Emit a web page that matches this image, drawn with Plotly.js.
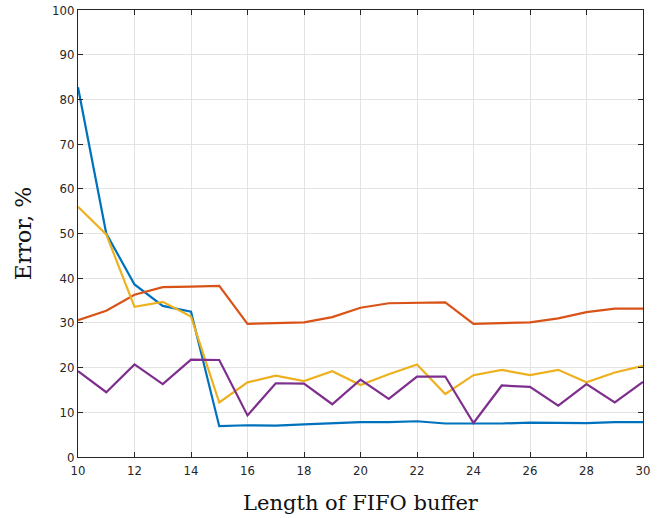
<!DOCTYPE html>
<html><head><meta charset="utf-8">
<script src="https://cdn.plot.ly/plotly-3.0.1.min.js"></script>
<style>html,body{margin:0;padding:0;background:#fff}#chart{width:672px;height:518px}</style>
</head><body><div id="chart"></div>
<script>
const bufferLength = [10,11,12,13,14,15,16,17,18,19,20,21,22,23,24,25,26,27,28,29,30];
const seriesBlue   = [82.7,50.0,38.6,33.8,32.5,6.9,7.1,7.0,7.3,7.5,7.8,7.8,8.0,7.5,7.5,7.5,7.7,7.7,7.6,7.8,7.8];
const seriesRed    = [30.6,32.7,36.3,38.0,38.1,38.3,29.8,29.9,30.1,31.3,33.4,34.4,34.5,34.6,29.8,29.9,30.1,31.0,32.4,33.2,33.2];
const seriesYellow = [56.0,49.8,33.6,34.7,31.4,12.2,16.7,18.2,17.0,19.2,16.1,18.5,20.7,14.1,18.3,19.5,18.3,19.5,16.7,18.9,20.4];
const seriesPurple = [19.2,14.5,20.7,16.3,21.8,21.7,9.3,16.5,16.4,11.8,17.3,13.0,18.0,18.0,7.6,16.0,15.7,11.5,16.3,12.2,16.8];
const xTicks = [10,12,14,16,18,20,22,24,26,28,30];
const yTicks = [0,10,20,30,40,50,60,70,80,90,100];

const colors = ['#0072BD','#D95319','#EDB120','#7E2F8E'];
const all = [seriesBlue, seriesRed, seriesYellow, seriesPurple];
const traces = all.map((s,i)=>({x:bufferLength,y:s,type:'scatter',mode:'lines',
  line:{color:colors[i],width:2.2},hoverinfo:'skip',showlegend:false}));

const axBase = {showline:true,linecolor:'#262626',linewidth:1,mirror:'ticks',ticks:'inside',
  ticklen:5,tickcolor:'#262626',showgrid:true,gridcolor:'#e3e3e3',gridwidth:1,zeroline:false,
  tickfont:{family:'DejaVu Sans Condensed, DejaVu Sans, sans-serif',size:13,color:'#262626'}};
const layout = {
  width:672,height:518,margin:{l:78,r:29,t:10,b:61},
  paper_bgcolor:'#fff',plot_bgcolor:'#fff',
  xaxis:Object.assign({},axBase,{range:[10,30],tickvals:xTicks,ticktext:xTicks.map(String),ticklabelstandoff:1,
    title:{text:'Length of FIFO buffer',font:{family:'DejaVu Serif, Liberation Serif, serif',size:21,color:'#111'},standoff:18}}),
  yaxis:Object.assign({},axBase,{range:[0,100],tickvals:yTicks,ticktext:yTicks.map(String),
    title:{text:'Error, %',font:{family:'DejaVu Serif, Liberation Serif, serif',size:22,color:'#111'},standoff:14}})
};
Plotly.newPlot('chart',traces,layout,{staticPlot:true,displayModeBar:false});
</script></body></html>
